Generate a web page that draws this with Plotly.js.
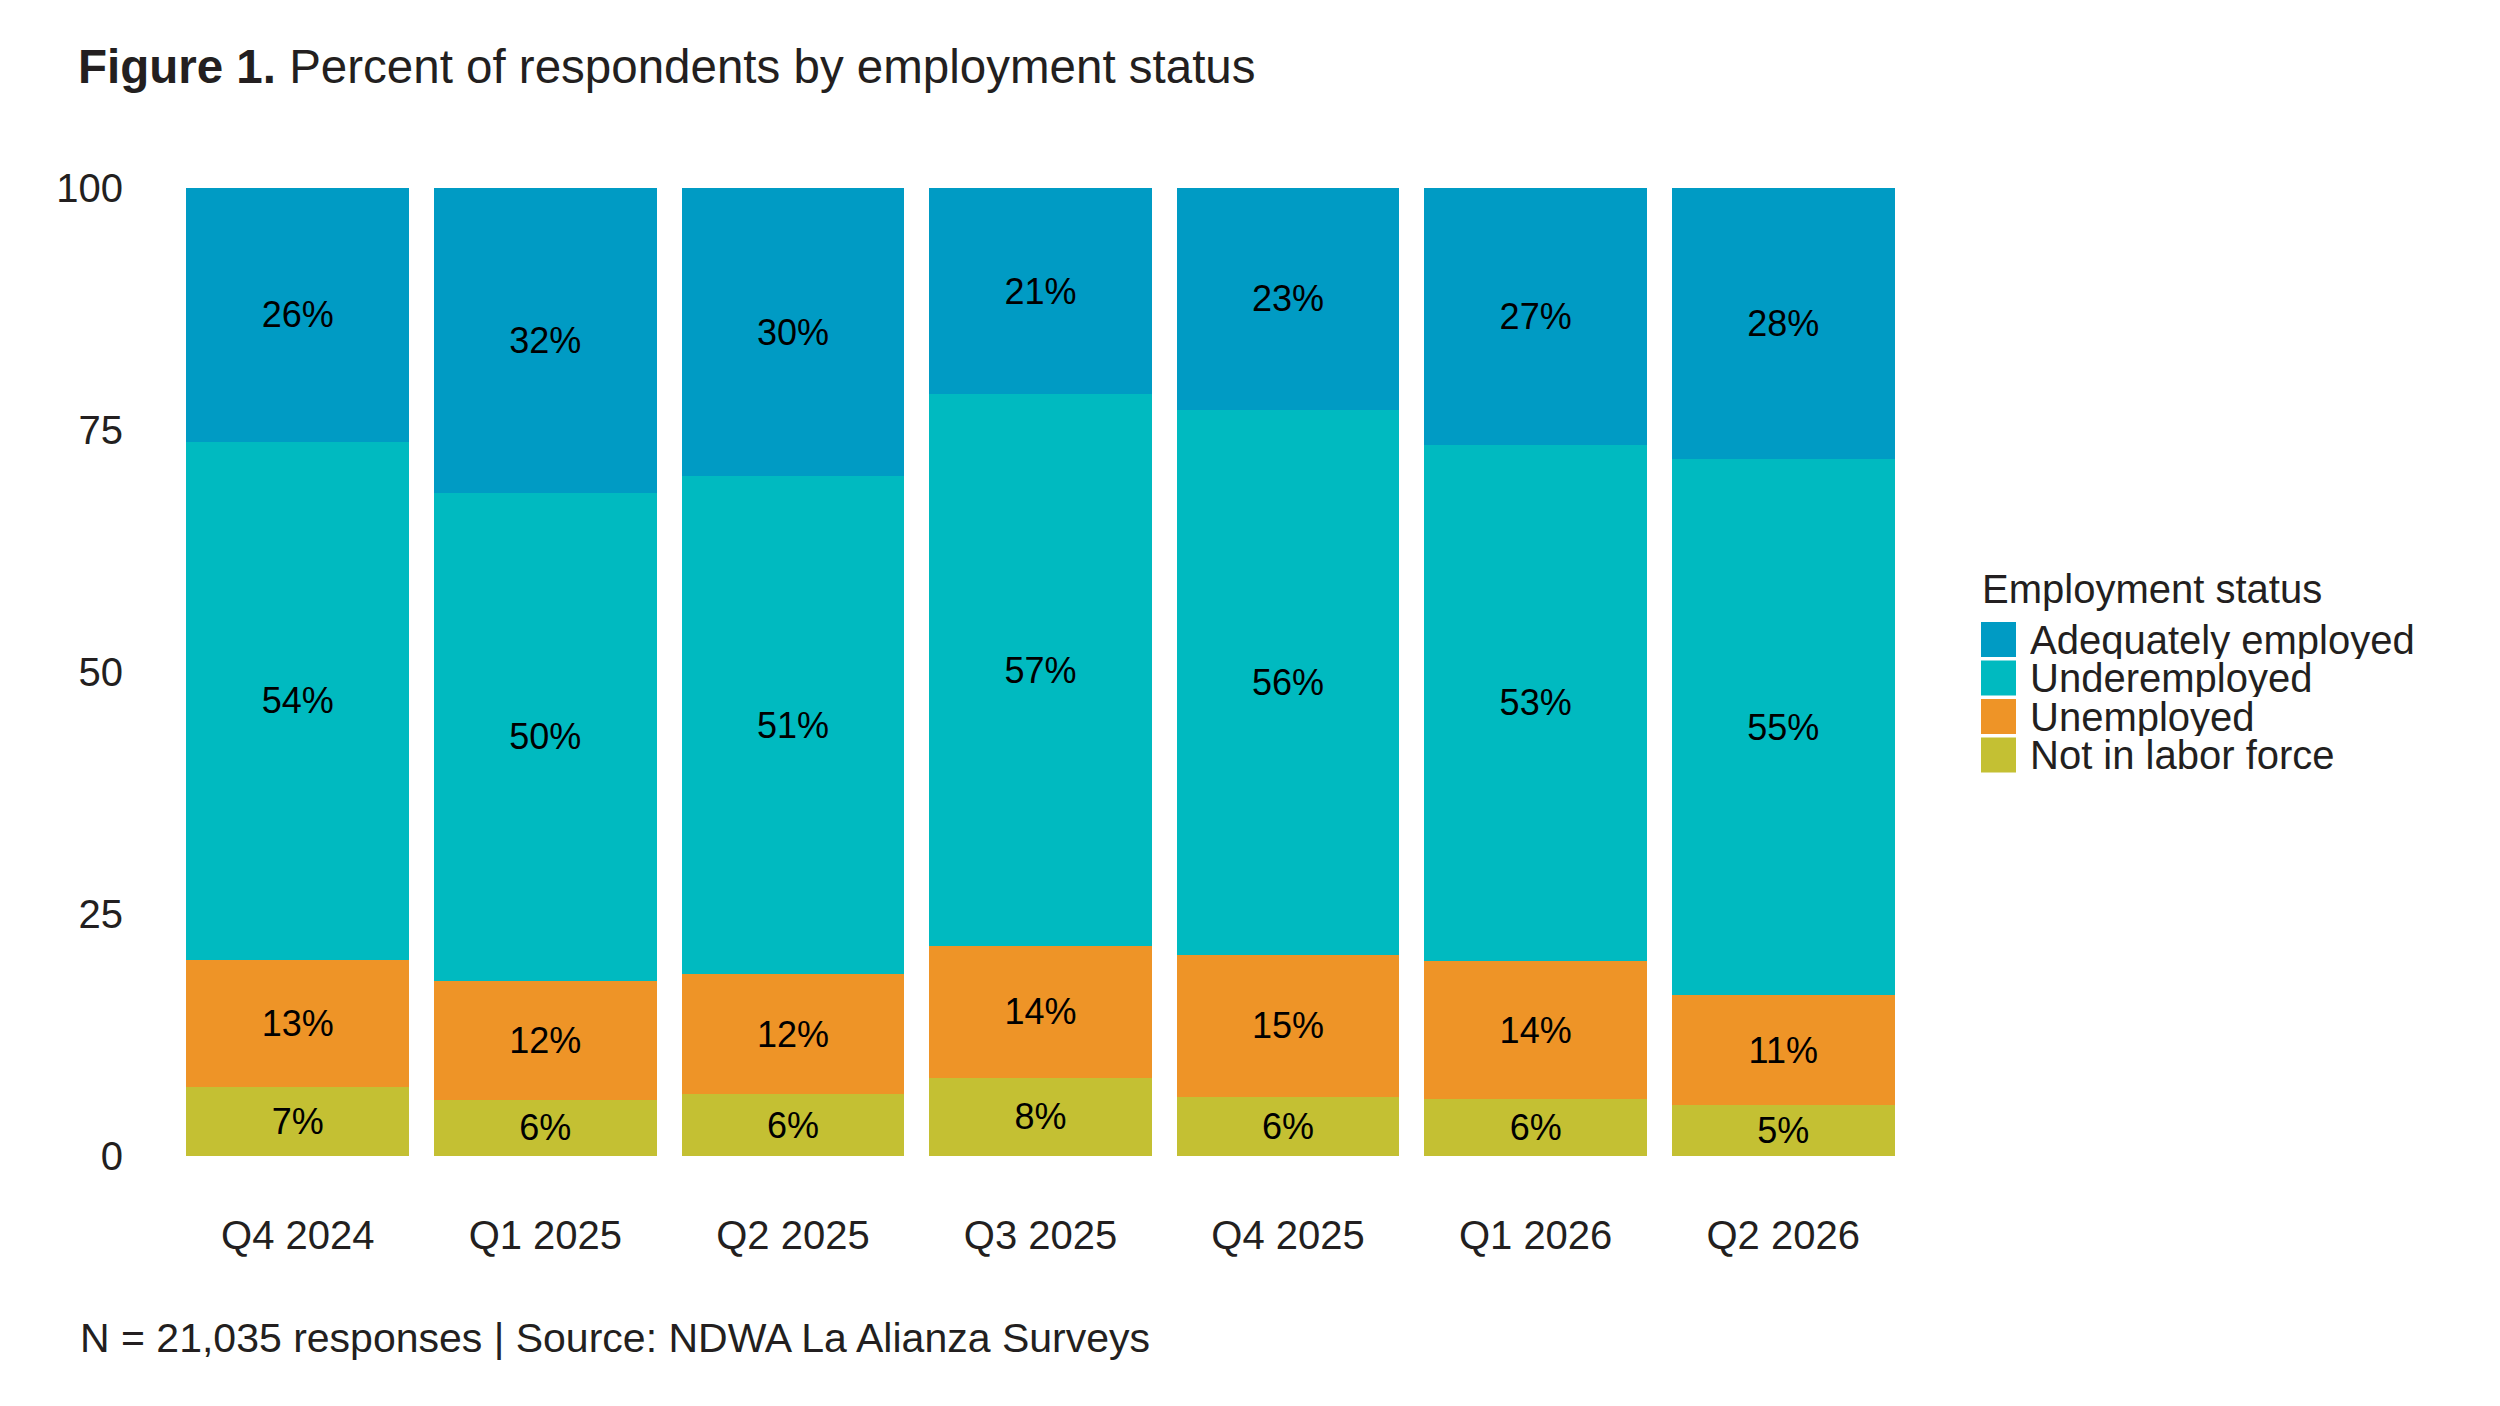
<!DOCTYPE html>
<html>
<head>
<meta charset="utf-8">
<script src="https://cdn.plot.ly/plotly-3.0.1.min.js"></script>
<style>
  html, body { margin: 0; padding: 0; background: #fff; }
  #chart { width: 2500px; height: 1406px; }
</style>
</head>
<body>
<div id="chart"></div>
<script>
const quarters = ['Q4 2024', 'Q1 2025', 'Q2 2025', 'Q3 2025', 'Q4 2025', 'Q1 2026', 'Q2 2026'];

// stacked bottom to top
const notInLaborForce = [7.1, 5.8, 6.4, 8.1, 6.1, 5.9, 5.3];
const unemployed      = [13.2, 12.3, 12.4, 13.6, 14.7, 14.2, 11.3];
const underemployed   = [53.5, 50.4, 51.4, 57.0, 56.3, 53.4, 55.4];
const adequately      = [26.2, 31.5, 29.8, 21.3, 22.9, 26.5, 28.0];

const seriesNames  = ['Not in labor force', 'Unemployed', 'Underemployed', 'Adequately employed'];
const seriesValues = [notInLaborForce, unemployed, underemployed, adequately];
const seriesColors = ['#c4c033', '#ee9427', '#00bac0', '#009bc4'];

const yTicks = [0, 25, 50, 75, 100];

const W = 2500, H = 1406;
const M = { l: 174, r: 593, t: 188, b: 250 };
const FONT = '"Liberation Sans", Arial, Helvetica, sans-serif';
const INK = '#231f20';

// pixel -> paper helpers for legend / footer placement
const px = x => (x - M.l) / (W - M.l - M.r);
const py = y => (H - M.b - y) / (H - M.t - M.b);

const traces = seriesNames.map((name, i) => ({
  type: 'bar',
  name: name,
  x: quarters,
  y: seriesValues[i],
  text: seriesValues[i].map(v => Math.round(v) + '%'),
  textposition: 'inside',
  insidetextanchor: 'middle',
  textangle: 0,
  constraintext: 'none',
  textfont: { family: FONT, size: 36, color: '#000' },
  marker: { color: seriesColors[i], line: { width: 0 } },
  hoverinfo: 'x+y+name',
  showlegend: false
}));

// legend drawn top item first
const shapes = [];
const annotations = [];
const legendOrder = [3, 2, 1, 0];
annotations.push({
  xref: 'paper', yref: 'paper', x: px(1980), y: py(589),
  xanchor: 'left', yanchor: 'middle', showarrow: false,
  text: 'Employment status',
  font: { family: FONT, size: 40, color: INK }
});
legendOrder.forEach((s, k) => {
  const cy = 639.5 + k * 38.5;
  shapes.push({
    type: 'rect', xref: 'paper', yref: 'paper',
    x0: px(1981), x1: px(2016), y0: py(cy - 17.5), y1: py(cy + 17.5),
    fillcolor: seriesColors[s], line: { width: 0 }
  });
  annotations.push({
    xref: 'paper', yref: 'paper', x: px(2029), y: py(cy),
    xanchor: 'left', yanchor: 'middle', showarrow: false,
    height: 38, borderpad: 0,
    text: seriesNames[s],
    font: { family: FONT, size: 40, color: INK }
  });
});

annotations.push({
  xref: 'paper', yref: 'paper', x: px(78), y: py(1338),
  xanchor: 'left', yanchor: 'middle', showarrow: false,
  text: 'N = 21,035 responses | Source: NDWA La Alianza Surveys',
  font: { family: FONT, size: 41, color: INK }
});

const layout = {
  width: W,
  height: H,
  margin: M,
  paper_bgcolor: '#fff',
  plot_bgcolor: '#fff',
  barmode: 'stack',
  bargap: 0.1,
  font: { family: FONT, color: INK },
  title: {
    text: '<b>Figure 1.</b> Percent of respondents by employment status',
    x: 78 / W, xref: 'container', xanchor: 'left',
    y: 1 - 66 / H, yref: 'container', yanchor: 'middle',
    font: { family: FONT, size: 47.5, color: INK }
  },
  xaxis: {
    type: 'category',
    showgrid: false,
    zeroline: false,
    showline: false,
    ticks: 'outside',
    ticklen: 44,
    tickcolor: 'rgba(0,0,0,0)',
    tickfont: { family: FONT, size: 40, color: INK }
  },
  yaxis: {
    range: [0, 100],
    tickvals: yTicks,
    ticktext: yTicks.map(String),
    showgrid: false,
    zeroline: false,
    showline: false,
    ticks: 'outside',
    ticklen: 42,
    tickcolor: 'rgba(0,0,0,0)',
    tickfont: { family: FONT, size: 40, color: INK }
  },
  shapes: shapes,
  annotations: annotations
};

Plotly.newPlot('chart', traces, layout, { staticPlot: true, displayModeBar: false });
</script>
</body>
</html>
